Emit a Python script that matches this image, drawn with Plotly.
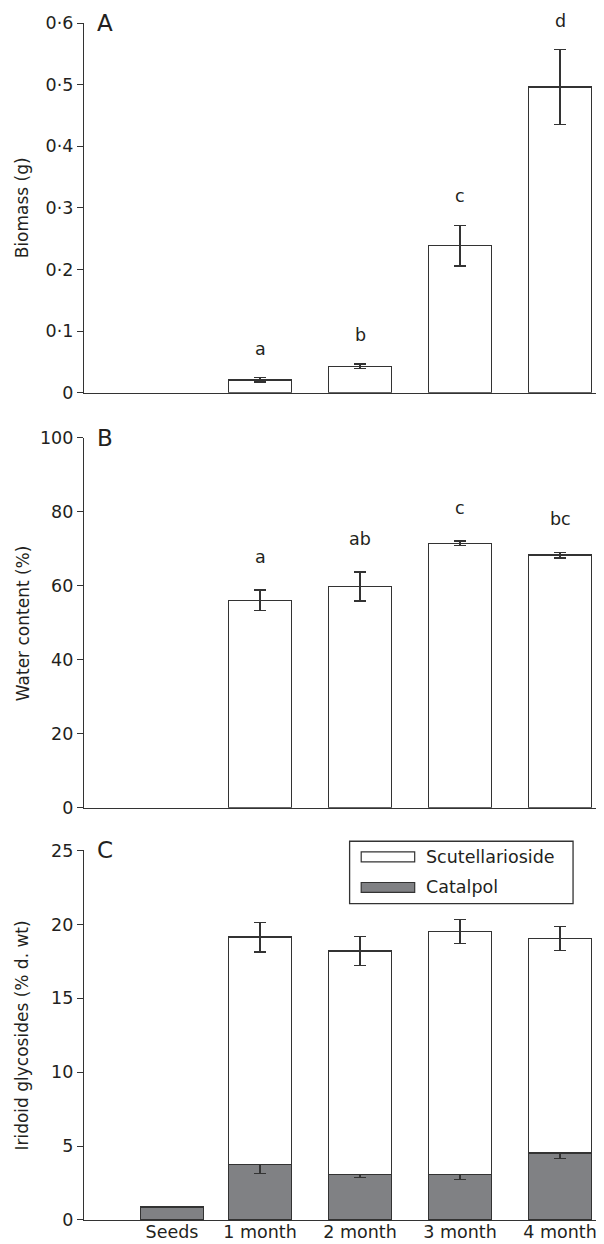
import plotly.graph_objects as go

# ---- data ----
categories = ["Seeds", "1 month", "2 month", "3 month", "4 month"]

biomass = [None, 0.021, 0.043, 0.239, 0.496]
biomass_err = [None, 0.0035, 0.004, 0.033, 0.061]
biomass_letters = [None, "a", "b", "c", "d"]

water = [None, 56.1, 59.8, 71.5, 68.3]
water_err = [None, 2.8, 3.9, 0.6, 0.8]
water_letters = [None, "a", "ab", "c", "bc"]

catalpol = [0.88, 3.76, 3.08, 3.08, 4.53]
catalpol_err = [0.05, 0.61, 0.2, 0.32, 0.36]
scutellarioside = [None, 15.38, 15.12, 16.45, 14.52]
total_err = [None, 1.0, 0.98, 0.82, 0.83]

biomass_ticks = [0, 0.1, 0.2, 0.3, 0.4, 0.5, 0.6]
biomass_ticktext = ["0", "0·1", "0·2", "0·3", "0·4", "0·5", "0·6"]

# ---- styling / layout ----
xpos = [0.12, 1, 2, 3, 4]
BW = 0.63
LINE = "#333333"
GREY = "#808184"
TXT = "#231f20"
FONT = "DejaVu Sans, sans-serif"
FS = 17.5

fig = go.Figure()

def err(arr):
    return dict(type="data", array=arr, visible=True, color=LINE, thickness=1.3, width=6)

fig.add_trace(go.Bar(x=xpos, y=biomass, width=BW, marker=dict(color="white", line=dict(color=LINE, width=1.3)),
                     error_y=err(biomass_err), xaxis="x", yaxis="y", showlegend=False))
fig.add_trace(go.Bar(x=xpos, y=water, width=BW, marker=dict(color="white", line=dict(color=LINE, width=1.3)),
                     error_y=err(water_err), xaxis="x2", yaxis="y2", showlegend=False))
fig.add_trace(go.Bar(x=xpos, y=catalpol, width=BW, name="Catalpol",
                     marker=dict(color=GREY, line=dict(color=LINE, width=1.3)),
                     error_y=err(catalpol_err), xaxis="x3", yaxis="y3", showlegend=False))
fig.add_trace(go.Bar(x=xpos, y=scutellarioside, width=BW, name="Scutellarioside",
                     marker=dict(color="white", line=dict(color=LINE, width=1.3)),
                     error_y=err(total_err), xaxis="x3", yaxis="y3", showlegend=False))

annotations = []
for xp, v, e, t in zip(xpos, biomass, biomass_err, biomass_letters):
    if t:
        annotations.append(dict(x=xp, y=v + e, xref="x", yref="y", text=t, showarrow=False,
                                yanchor="middle", yshift=29, font=dict(size=FS, color=TXT, family=FONT)))
for xp, v, e, t in zip(xpos, water, water_err, water_letters):
    if t:
        annotations.append(dict(x=xp, y=v + e, xref="x2", yref="y2", text=t, showarrow=False,
                                yanchor="middle", yshift=33, font=dict(size=FS, color=TXT, family=FONT)))

# panel letters
for lab, yref in [("A", "y domain"), ("B", "y2 domain"), ("C", "y3 domain")]:
    annotations.append(dict(x=0.02, y=1, xref="x domain", yref=yref, text=lab, showarrow=False,
                            xanchor="left", yanchor="middle", font=dict(size=23, color=TXT, family=FONT)))

# y titles
for title, yref in [("Biomass (g)", "y domain"), ("Water content (%)", "y2 domain"),
                    ("Iridoid glycosides (% d. wt)", "y3 domain")]:
    annotations.append(dict(x=-0.117, y=0.5, xref="paper", yref=yref, text=title, showarrow=False,
                            textangle=-90, xanchor="center", yanchor="middle", borderpad=0,
                            font=dict(size=17, color=TXT, family=FONT)))

# legend (manual, wide swatches)
shapes = [
    dict(type="rect", xref="x3 domain", yref="y3 domain", x0=0.504, x1=0.928, y0=0.856, y1=1.025,
         line=dict(color=LINE, width=1.3), fillcolor="white", layer="above"),
    dict(type="rect", xref="x3 domain", yref="y3 domain", x0=0.526, x1=0.6275, y0=0.9693, y1=0.9964,
         line=dict(color=LINE, width=1.2), fillcolor="white", layer="above"),
    dict(type="rect", xref="x3 domain", yref="y3 domain", x0=0.526, x1=0.6275, y0=0.8864, y1=0.9134,
         line=dict(color=LINE, width=1.2), fillcolor=GREY, layer="above"),
]
for name, yy in [("Scutellarioside", 0.983), ("Catalpol", 0.900)]:
    annotations.append(dict(x=0.645, y=yy, xref="x3 domain", yref="y3 domain", text=name, showarrow=False,
                            xanchor="left", yanchor="middle", font=dict(size=FS, color=TXT, family=FONT)))

xcommon = dict(range=[-0.76, 4.51], showline=True, linecolor=LINE, linewidth=1.3, ticks="",
               showgrid=False, zeroline=False, fixedrange=True, automargin=False)
ycommon = dict(showline=True, linecolor=LINE, linewidth=1.3, ticks="outside", ticklen=6, tickwidth=1.3,
               tickcolor=LINE, showgrid=False, zeroline=False, automargin=False,
               tickfont=dict(size=FS, color=TXT, family=FONT))

fig.update_layout(
    width=604, height=1244,
    margin=dict(l=76, r=1, t=15, b=31.7),
    paper_bgcolor="white", plot_bgcolor="white",
    barmode="stack", showlegend=False,
    font=dict(family=FONT, color=TXT),
    xaxis=dict(domain=[0, 1], anchor="y", showticklabels=False, **xcommon),
    xaxis2=dict(domain=[0, 1], anchor="y2", showticklabels=False, **xcommon),
    xaxis3=dict(domain=[0, 1], anchor="y3", showticklabels=True, tickvals=xpos, ticktext=categories,
                ticklabelstandoff=-4,
                tickfont=dict(size=FS, color=TXT, family=FONT), **xcommon),
    yaxis=dict(domain=[0.6910, 1.0], anchor="x", range=[0, 0.6], tickvals=biomass_ticks,
               ticktext=biomass_ticktext, **ycommon),
    yaxis2=dict(domain=[0.3444, 0.6534], anchor="x2", range=[0, 100], dtick=20, **ycommon),
    yaxis3=dict(domain=[0, 0.3087], anchor="x3", range=[0, 25], dtick=5, **ycommon),
    annotations=annotations,
    shapes=shapes,
)

fig.write_html("out.html")
